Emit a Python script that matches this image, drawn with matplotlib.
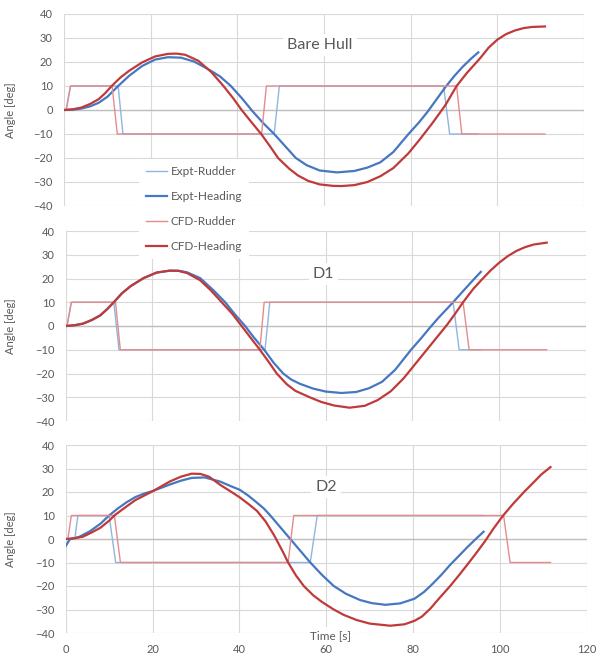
import numpy as np
import matplotlib
matplotlib.use("Agg")
import matplotlib.pyplot as plt

plt.rcParams['font.family'] = ['Lato', 'DejaVu Sans']

# ---------------- data ----------------
panel_titles = ["Bare Hull", "D1", "D2"]
series_names = ["Expt-Rudder", "Expt-Heading", "CFD-Rudder", "CFD-Heading"]

# Bare Hull
bh_expt_rud_t = [0, 0.5, 1.5, 12.5, 13.6, 48.5, 49.7, 87.6, 89.0, 95.6]
bh_expt_rud = [0, 0, 10, 10, -10, -10, 10, 10, -10, -10]
bh_expt_hdg_t = [0, 2, 4, 6, 8, 10, 12.5, 15, 18, 21, 24, 27, 30, 33, 36, 38.5, 41, 43.5,
                 46, 48.5, 51, 53.5, 56, 59, 63, 67, 70, 73, 76, 79.5, 82, 84, 86, 88,
                 90, 92, 94, 95.6]
bh_expt_hdg = [0, 0.1, 0.6, 1.5, 3, 5.5, 10, 14.2, 18.3, 21, 22, 21.8, 20.2, 17.3, 14, 10, 5,
               -0.5, -5.5, -10, -15, -20, -23, -25.2, -26, -25.4, -24, -21.8, -17.5, -10,
               -5, -0.5, 4.5, 9.5, 14, 18, 21.5, 24]
bh_cfd_rud_t = [0, 0.5, 1.5, 11.1, 12.3, 45.6, 46.7, 90.6, 91.8, 111]
bh_cfd_rud = [0, 0, 10, 10, -10, -10, 10, 10, -10, -10]
bh_cfd_hdg_t = [0, 2, 4, 6, 8, 9.5, 11, 13, 15, 18, 21, 24, 26, 28, 31, 34, 36.8, 39, 41, 43,
                45.5, 47.5, 49.4, 52, 54, 56.3, 59, 62, 64, 67, 70, 73, 76, 79.5, 82, 85,
                88, 90.6, 93, 96, 98, 100, 102, 104, 106, 108, 111]
bh_cfd_hdg = [0, 0.3, 1, 2.5, 4.5, 7, 10, 13.5, 16.3, 19.8, 22.3, 23.4, 23.5, 23, 20.5, 15.8,
              10, 5, 0, -4.5, -10, -15, -20, -24.5, -27.3, -29.5, -31, -31.6, -31.7, -31.3,
              -30, -27.6, -24.2, -18, -12.5, -5.5, 2, 10, 15.5, 21.5, 26, 29.3, 31.6, 33.1,
              34.1, 34.6, 34.8]

# D1
d1_expt_rud_t = [0, 0.3, 1.3, 11.1, 12.3, 46.0, 47.1, 89.4, 90.8, 95.8]
d1_expt_rud = [0, 0, 10, 10, -10, -10, 10, 10, -10, -10]
d1_expt_hdg_t = [0, 2, 4, 6, 8, 9.5, 11.1, 13, 15, 18, 21, 24, 26, 28, 31, 34, 36.8, 39, 41.4,
                 43.5, 45.8, 48, 50.2, 52, 54, 57, 60, 63.6, 67, 70, 73, 76, 79.7, 82, 84,
                 86, 89.4, 92, 94, 95.8]
d1_expt_hdg = [0, 0.3, 1, 2.5, 4.5, 7, 10, 13.8, 16.8, 20.2, 22.5, 23.3, 23.3, 22.6, 20.2,
               15.2, 10, 5, 0, -5, -10, -15.5, -20, -22.5, -24.3, -26.3, -27.6, -28.2,
               -27.8, -26.2, -23.5, -18.5, -10, -5.2, -0.8, 3.4, 10, 15.3, 19.3, 22.8]
d1_cfd_rud_t = [0, 0.3, 1.3, 11.5, 12.6, 44.8, 45.8, 91.7, 93.1, 111]
d1_cfd_rud = [0, 0, 10, 10, -10, -10, 10, 10, -10, -10]
d1_cfd_hdg_t = [0, 2, 4, 6, 8, 9.5, 11.1, 13, 15, 18, 21, 24, 26, 28, 31, 33.5, 36, 38.5,
                40.6, 42.7, 44.8, 46.8, 48.7, 51, 53, 56.3, 59, 62, 65.5, 69, 72, 75, 78,
                80, 82, 84, 86, 88, 90, 91.7, 94, 96, 98, 100, 102, 104, 106, 108, 111]
d1_cfd_hdg = [0, 0.3, 1, 2.5, 4.5, 7, 10, 13.8, 16.8, 20.2, 22.5, 23.3, 23.2, 22.3, 19.3, 15,
              10, 5, 0, -5, -10, -15, -20, -24.5, -27.3, -30, -32, -33.5, -34.4, -33.6,
              -31.2, -27.5, -22, -17.5, -13, -8.5, -4, 0.5, 5.5, 10, 15.5, 19.5, 23.3, 26.6,
              29.4, 31.6, 33.2, 34.3, 35.1]

# D2
d2_expt_rud_t = [0, 2.1, 2.8, 10.0, 11.5, 56.3, 57.9, 96.2]
d2_expt_rud = [0, 0, 10, 10, -10, -10, 10, 10]
d2_expt_hdg_t = [0, 1, 3, 5.5, 8, 10, 12, 14, 16, 18, 20, 22, 24, 26.5, 29, 32, 35.6, 38,
                 40.1, 42, 44, 45.6, 47.1, 49.4, 51.7, 54, 56.3, 59, 61.7, 64.5, 67.8, 70.5,
                 73.6, 77, 80.3, 82.5, 84.5, 86.5, 88.5, 90.5, 92.5, 94.5, 96.2]
d2_expt_hdg = [-3, 0, 0.8, 3.2, 6.5, 10, 13, 15.6, 17.8, 19.3, 20.4, 21.8, 23.2, 24.8, 26,
               26.2, 24.4, 22.5, 20.9, 18.5, 15.5, 13, 10, 5, 0, -5, -10, -15.3, -20, -23.3,
               -26, -27.3, -28, -27.4, -25.4, -22.5, -19, -15.2, -11, -7.2, -3.4, 0.2, 3.1]
d2_cfd_rud_t = [0, 0.5, 1.3, 11.2, 12.6, 51.2, 52.5, 100.8, 102.3, 111.6]
d2_cfd_rud = [0, 0, 10, 10, -10, -10, 10, 10, -10, -10]
d2_cfd_hdg_t = [0, 2, 4, 6, 8, 10, 11.2, 13, 16, 20, 24, 26.5, 29, 31, 33, 35.6, 38, 40, 42,
                44, 46, 48, 50, 51.2, 53, 54.8, 57, 59, 61.7, 64, 67, 70, 74.7,
                78, 80.3, 82, 84, 86, 88.5, 90.5, 92.5, 94.5, 96.5, 98.5, 100.7, 103, 105.5,
                107.6, 109.5, 111.6]
d2_cfd_hdg = [0, 0.3, 1, 2.8, 4.8, 7.8, 10, 12.5, 16.5, 20.3, 24.5, 26.5, 27.8, 27.7, 26.5,
              23, 20.2, 17.8, 15, 12, 7.5, 1.5, -5.5, -10, -15.5, -20, -24, -26.8, -30, -32.3,
              -34.5, -36, -36.9, -36.3, -34.8, -33, -29.5, -25.2, -20, -15.5, -10.8, -6, -1,
              4.5, 10, 15, 20, 23.9, 27.5, 30.6]

panels = [
    [(bh_expt_rud_t, bh_expt_rud), (bh_expt_hdg_t, bh_expt_hdg),
     (bh_cfd_rud_t, bh_cfd_rud), (bh_cfd_hdg_t, bh_cfd_hdg)],
    [(d1_expt_rud_t, d1_expt_rud), (d1_expt_hdg_t, d1_expt_hdg),
     (d1_cfd_rud_t, d1_cfd_rud), (d1_cfd_hdg_t, d1_cfd_hdg)],
    [(d2_expt_rud_t, d2_expt_rud), (d2_expt_hdg_t, d2_expt_hdg),
     (d2_cfd_rud_t, d2_cfd_rud), (d2_cfd_hdg_t, d2_cfd_hdg)],
]

colors = ['#8FB5E0', '#4677C0', '#E48C8C', '#C03A3A']
widths = [1.0, 1.6, 1.0, 1.6]
txt = '#595959'

W, H = 598, 657
fig = plt.figure(figsize=(W / 100, H / 100), dpi=100)

# axes boxes in pixels: left, top, right, bottom
boxes = [(64, 14, 584, 206), (65.7, 231, 585.7, 421), (65.7, 445, 587, 633)]
title_pos = [(59, 27), (59.5, 22), (60, 22)]

handles = []
for i, (l, t, r, b) in enumerate(boxes):
    ax = fig.add_axes([l / W, 1 - b / H, (r - l) / W, (b - t) / H])
    ax.set_xlim(0, 120)
    ax.set_ylim(-40, 40)
    ax.set_xticks(np.arange(0, 121, 20))
    ax.set_yticks(np.arange(-40, 41, 10))
    ax.grid(True, color='#D9D9D9', lw=0.8)
    ax.set_axisbelow(True)
    ax.axhline(0, color='#BFBFBF', lw=1.0, zorder=1)
    for s in ax.spines.values():
        s.set_visible(False)
    ax.tick_params(length=0, labelsize=8, colors=txt, pad=8)
    if i < 2:
        ax.tick_params(labelbottom=False)
    for j, (tt, vv) in enumerate(panels[i]):
        ln, = ax.plot(tt, vv, color=colors[j], lw=widths[j], label=series_names[j],
                      zorder=3 + j, solid_joinstyle='round')
        if i == 0:
            handles.append(ln)
    ax.set_ylabel("Angle [deg]", fontsize=8, color=txt)
    ax.yaxis.set_label_coords((16 - l) / (r - l), 0.5)
    ax.text(title_pos[i][0], title_pos[i][1], panel_titles[i], fontsize=11.5, color=txt,
            ha='center', va='center', zorder=10,
            bbox=dict(facecolor='white', edgecolor='none', pad=3))

fig.text(330 / W, 1 - 635.5 / H, "Time [s]", fontsize=8.5, color=txt, ha='center', va='center',
         bbox=dict(facecolor='white', edgecolor='none', pad=2), zorder=20)

fig.legend(handles=handles, loc='upper left', bbox_to_anchor=(133 / W, 1 - 153 / H),
           frameon=True, facecolor='white', edgecolor='none', framealpha=1, fancybox=False,
           fontsize=8.5, labelcolor=txt, handlelength=1.8, handletextpad=0.3,
           labelspacing=1.18, borderpad=0.6)

fig.savefig("out.png", dpi=100)
